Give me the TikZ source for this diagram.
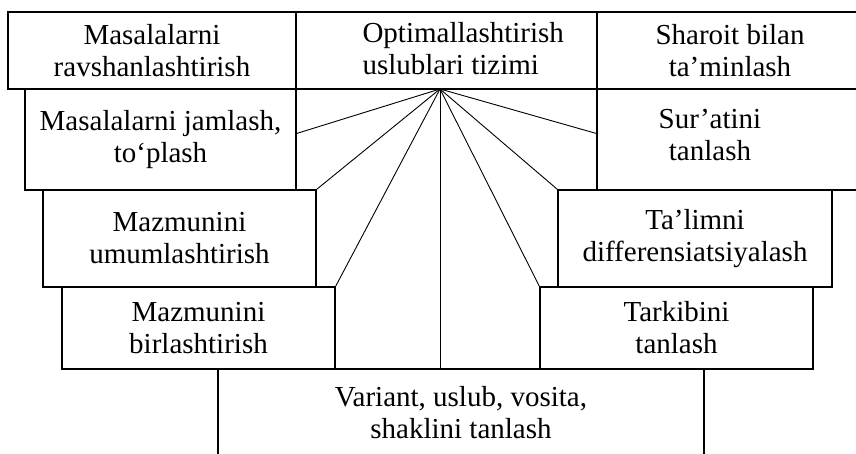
\documentclass[tikz,border=0pt]{standalone}
\usepackage{fontspec}
\setmainfont{Liberation Serif}

\begin{document}
\begin{tikzpicture}[x=1pt, y=-1pt, line width=1pt,
  every node/.style={font=\fontsize{29}{32}\selectfont, align=center, inner sep=0pt},
  sbox/.style={draw, line width=1.1pt},
  spoke/.style={line width=0.9pt}]
\useasboundingbox (0,0) rectangle (856,453);
% Top row
\node [sbox, minimum width=288, minimum height=77] (ravshan) at (152,50.5) {Masalalarni\\ravshanlashtirish};
\node [sbox, minimum width=301, minimum height=77] (tizim) at (446.5,50.5) {};
\node [anchor=north west, align=left] (tizimtext) at (362,22.2) {Optimallashtirish\\uslublari tizimi};
\node [sbox, minimum width=266, minimum height=77] (sharoit) at (730,50.5) {Sharoit bilan\\ta’minlash};
% Left side
\node [sbox, minimum width=271, minimum height=101] (jamlash) at (160.5,139.5) {Masalalarni jamlash,\\to‘plash};
\node [sbox, minimum width=273, minimum height=97] (umum) at (179.5,238.5) {Mazmunini\\umumlashtirish};
\node [sbox, minimum width=273, minimum height=82] (birlash) at (198.5,328) {Mazmunini\\birlashtirish};
% Right side
\node [sbox, minimum width=266, minimum height=101] (surat) at (730,139.5) {};
\node (surattext) at (710,135) {Sur’atini\\tanlash};
\node [sbox, minimum width=274, minimum height=97] (talim) at (695,238.5) {Ta’limni\\differensiatsiyalash};
\node [sbox, minimum width=273, minimum height=82] (tarkib) at (676.5,328) {Tarkibini\\tanlash};
% Bottom
\node [sbox, minimum width=486, minimum height=88] (variant) at (461,413) {Variant, uslub, vosita,\\shaklini tanlash};
% Spokes
\coordinate (hub) at (440,89);
\draw [spoke] (hub) -- ([yshift=6pt]jamlash.east);
\draw [spoke] (hub) -- (umum.north east);
\draw [spoke] (hub) -- (birlash.north east);
\draw [spoke] (hub) -- (hub |- variant.north);
\draw [spoke] (hub) -- (tarkib.north west);
\draw [spoke] (hub) -- (talim.north west);
\draw [spoke] (hub) -- ([yshift=6pt]surat.west);
\end{tikzpicture}
\end{document}
